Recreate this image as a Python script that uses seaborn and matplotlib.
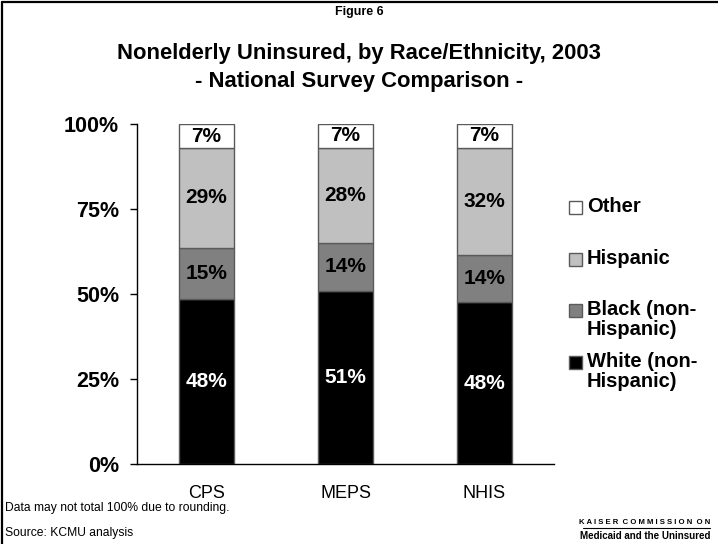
import numpy as np
import pandas as pd
import matplotlib
matplotlib.use("Agg")
import matplotlib.pyplot as plt
import seaborn as sns
from matplotlib.patches import Rectangle
from matplotlib.lines import Line2D

surveys = ["CPS", "MEPS", "NHIS"]
white_nh = [48, 51, 48]
black_nh = [15, 14, 14]
hispanic = [29, 28, 32]
other = [7, 7, 7]

segments = ["White (non-\nHispanic)", "Black (non-\nHispanic)", "Hispanic", "Other"]
seg_values = [white_nh, black_nh, hispanic, other]
seg_colors = ["#000000", "#808080", "#c0c0c0", "#ffffff"]
label_colors = ["white", "black", "black", "black"]
y_ticks = [0, 25, 50, 75, 100]
y_tick_labels = ["0%", "25%", "50%", "75%", "100%"]

sns.set_theme(style="white")
plt.rcParams["font.family"] = ["Liberation Sans", "DejaVu Sans"]
plt.rcParams["text.color"] = "black"
plt.rcParams["xtick.color"] = "black"
plt.rcParams["ytick.color"] = "black"
plt.rcParams["axes.labelcolor"] = "black"

fig = plt.figure(figsize=(7.18, 5.44), dpi=100)
ax = fig.add_axes([0.1908, 0.147, 0.5808, 0.625])

# 100% stacked bars: each segment scaled by its survey's total
raw = np.array(seg_values, dtype=float)
totals = raw.sum(axis=0)
shares = raw / totals * 100
bottom = np.zeros(len(surveys))
for seg, vals, share, col, lc in zip(segments, raw, shares, seg_colors, label_colors):
    df = pd.DataFrame({"survey": surveys, "share": share})
    sns.barplot(data=df, x="survey", y="share", order=surveys, color=col,
                width=0.4, bottom=bottom, edgecolor="#5a5a5a", linewidth=1.0,
                saturation=1, ax=ax)
    for i, (v, s) in enumerate(zip(vals, share)):
        ax.text(i, bottom[i] + s / 2, f"{int(v)}%", ha="center", va="center",
                fontsize=15, fontweight="bold", color=lc)
    bottom = bottom + share

ax.set_ylim(0, 100)
ax.set_xlim(-0.5, 2.5)
ax.set_yticks(y_ticks)
ax.set_yticklabels(y_tick_labels, fontsize=15.5, fontweight="bold")
ax.tick_params(axis="y", which="both", left=True, length=5, width=1, color="black", pad=8)
ax.tick_params(axis="x", bottom=False, labelsize=13, pad=9)
ax.set_xlabel("")
ax.set_ylabel("")
for side in ["top", "right"]:
    ax.spines[side].set_visible(False)
for side in ["left", "bottom"]:
    ax.spines[side].set_color("black")
    ax.spines[side].set_linewidth(1)

# legend: swatches aligned with the first line of each label, top entry first
W, H = 718.0, 544.0
legend_rows = [("Other", "#ffffff", 207), ("Hispanic", "#c0c0c0", 259),
               ("Black (non-\nHispanic)", "#808080", 310),
               ("White (non-\nHispanic)", "#000000", 362)]
for text, col, ypx in legend_rows:
    sq = 13.0
    fig.add_artist(Rectangle((569 / W, 1 - (ypx + sq / 2) / H), sq / W, sq / H,
                             facecolor=col, edgecolor="#5a5a5a", linewidth=1,
                             transform=fig.transFigure))
    fig.text(587 / W, 1 - (ypx - 10) / H, text, ha="left", va="top",
             fontsize=14.5, fontweight="bold", linespacing=1.05)

fig.text(0.5, 0.978, "Figure 6", ha="center", va="center", fontsize=9, fontweight="bold")
fig.text(0.5, 0.902, "Nonelderly Uninsured, by Race/Ethnicity, 2003", ha="center",
         va="center", fontsize=15.8, fontweight="bold")
fig.text(0.5, 0.851, "- National Survey Comparison -", ha="center", va="center",
         fontsize=15.8, fontweight="bold")

fig.text(0.007, 0.066, "Data may not total 100% due to rounding.", ha="left",
         va="center", fontsize=8.7)
fig.text(0.007, 0.020, "Source: KCMU analysis", ha="left", va="center", fontsize=8.7)

fig.text(0.989, 0.040, "K A I S E R  C O M M I S S I O N  O N", ha="right",
         va="center", fontsize=5.6, fontweight="bold")
fig.add_artist(Line2D([0.812, 0.989], [0.030, 0.030], color="black", linewidth=0.8))
fig.text(0.989, 0.015, "Medicaid and the Uninsured", ha="right", va="center",
         fontsize=7.0, fontweight="heavy")

# frame along left and top edges
fig.add_artist(Line2D([0.003, 0.003], [0.0, 0.996], color="black", linewidth=1.6))
fig.add_artist(Line2D([0.003, 1.0], [0.996, 0.996], color="black", linewidth=1.6))

fig.savefig("out.png", dpi=100)
